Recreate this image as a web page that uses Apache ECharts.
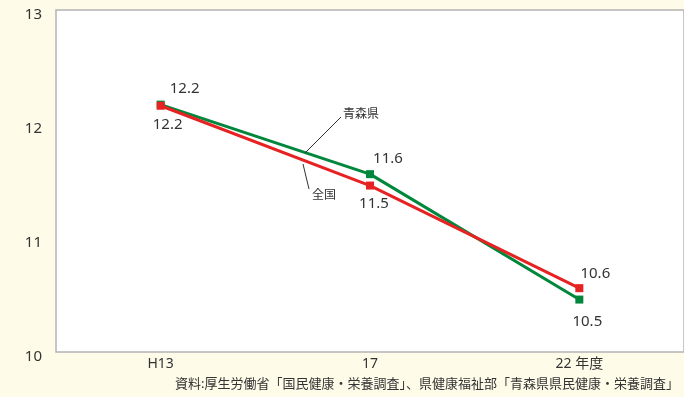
<!DOCTYPE html>
<html>
<head>
<meta charset="utf-8">
<script src="https://cdn.jsdelivr.net/npm/echarts@6/dist/echarts.min.js"></script>
<style>
html,body{margin:0;padding:0;background:#fffbe9;}
#chart{width:684px;height:397px;}
</style>
</head>
<body>
<div id="chart"></div>
<script>
var categories = ['H13', '17', '22 年度'];
var aomoriValues = [12.17, 11.56, 10.46];
var nationalValues = [12.16, 11.46, 10.56];
var yTicks = [10, 11, 12, 13];
var seriesNames = ['青森県', '全国'];
var sourceText = '資料:厚生労働省「国民健康・栄養調査」、県健康福祉部「青森県県民健康・栄養調査」';

var FONT = "'Noto Sans', 'Noto Sans CJK JP', sans-serif";
var GREEN = '#00873c';
var RED = '#e62222';

function lbl(pos, dx, dy) {
  return { show: true, position: pos, offset: [dx, dy] };
}
var greenLabels = [lbl('top', 24, 1), lbl('top', 18, 1), lbl('bottom', 8, 6)];
var redLabels = [lbl('bottom', 7, 2), lbl('bottom', 4, 2), lbl('top', 16, 2)];

function mk(values, labels) {
  return values.map(function (v, i) { return { value: v, label: labels[i] }; });
}

var chart = echarts.init(document.getElementById('chart'));
chart.setOption({
  backgroundColor: '#fffbe9',
  animation: false,
  textStyle: { fontFamily: FONT },
  grid: {
    left: 56, top: 10, right: -6, bottom: 45,
    show: true, backgroundColor: '#ffffff', borderColor: '#b4b4b4', borderWidth: 1.5
  },
  xAxis: {
    type: 'category', data: categories, boundaryGap: true,
    axisLine: { show: false }, axisTick: { show: false },
    axisLabel: { color: '#333', fontSize: 14, margin: 5, fontFamily: FONT }
  },
  yAxis: {
    type: 'value', min: yTicks[0], max: yTicks[yTicks.length - 1], interval: 1,
    axisLine: { show: false }, axisTick: { show: false }, splitLine: { show: false },
    axisLabel: { color: '#333', fontSize: 15, margin: 14, fontFamily: FONT,
      formatter: function (v) { return String(v); },
      verticalAlign: 'top', lineHeight: 10 }
  },
  series: [
    {
      name: seriesNames[0], type: 'line', data: mk(aomoriValues, greenLabels),
      symbol: 'rect', symbolSize: 8, lineStyle: { color: GREEN, width: 3 },
      itemStyle: { color: GREEN },
      label: { color: '#333', fontSize: 15, fontFamily: FONT,
        formatter: function (p) { return p.value.toFixed(1); } },
      z: 2
    },
    {
      name: seriesNames[1], type: 'line', data: mk(nationalValues, redLabels),
      symbol: 'rect', symbolSize: 8, lineStyle: { color: RED, width: 3 },
      itemStyle: { color: RED },
      label: { color: '#333', fontSize: 15, fontFamily: FONT,
        formatter: function (p) { return p.value.toFixed(1); } },
      z: 3
    }
  ],
  graphic: [
    { type: 'line', shape: { x1: 305, y1: 153, x2: 341, y2: 117 }, style: { stroke: '#333', lineWidth: 1 }, z: 10 },
    { type: 'text', left: 343, top: 109, style: { text: seriesNames[0], font: '12px ' + FONT, fill: '#333' }, z: 10 },
    { type: 'line', shape: { x1: 303, y1: 164, x2: 309, y2: 189 }, style: { stroke: '#333', lineWidth: 1 }, z: 10 },
    { type: 'text', left: 312, top: 190, style: { text: seriesNames[1], font: '12px ' + FONT, fill: '#333' }, z: 10 },
    { type: 'text', right: 5, top: 378, style: { text: sourceText, font: '13px ' + FONT, fill: '#333' }, z: 10 }
  ]
});
</script>
</body>
</html>
